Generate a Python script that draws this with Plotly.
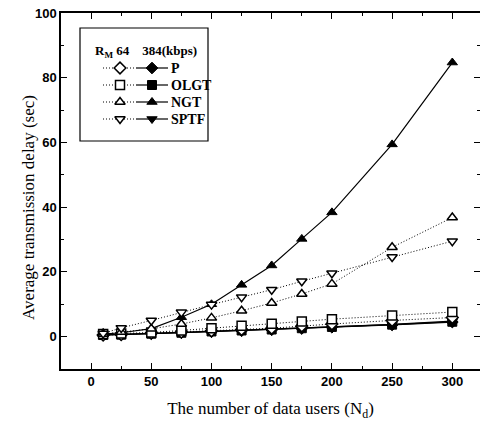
import plotly.graph_objects as go

# ---- data ----
users = [10, 25, 50, 75, 100, 125, 150, 175, 200, 250, 300]

p_64 = [0.5, 0.6, 1.1, 1.4, 1.8, 2.2, 2.6, 3.3, 3.9, 5.0, 5.9]
p_384 = [0.5, 0.6, 0.9, 1.2, 1.5, 1.8, 2.1, 2.5, 2.9, 3.6, 4.5]
olgt_64 = [0.8, 1.0, 1.3, 1.9, 2.6, 3.4, 4.0, 4.7, 5.4, 6.5, 7.6]
olgt_384 = [0.5, 0.6, 0.9, 1.2, 1.6, 1.9, 2.2, 2.6, 3.0, 3.7, 4.6]
ngt_64 = [0.8, 1.4, 2.4, 3.9, 5.8, 8.0, 10.4, 13.2, 16.3, 27.6, 36.8]
ngt_384 = [0.8, 1.2, 2.5, 6.0, 10.0, 16.0, 22.0, 30.2, 38.4, 59.4, 84.7]
sptf_64 = [1.0, 2.7, 5.0, 7.5, 9.9, 12.2, 14.5, 17.1, 19.6, 24.6, 29.5]
sptf_384 = [0.5, 0.7, 1.0, 1.3, 1.6, 1.9, 2.2, 2.6, 3.0, 3.8, 4.8]

names = ["P", "OLGT", "NGT", "SPTF"]
symbols = ["diamond", "square", "triangle-up", "triangle-down"]
series_64 = [p_64, olgt_64, ngt_64, sptf_64]
series_384 = [p_384, olgt_384, ngt_384, sptf_384]

x_ticks = [0, 50, 100, 150, 200, 250, 300]
y_ticks = [0, 20, 40, 60, 80, 100]

fig = go.Figure()

# filled (384 kbps) solid lines
for name, sym, ys in zip(names, symbols, series_384):
    fig.add_trace(go.Scatter(
        x=users, y=ys, mode="lines+markers", name=name + " 384",
        line=dict(color="black", width=1.2),
        marker=dict(symbol=sym, size=9, color="black", line=dict(color="black", width=1)),
        showlegend=False))

# open (64 kbps) dotted lines
for name, sym, ys in zip(names, symbols, series_64):
    fig.add_trace(go.Scatter(
        x=users, y=ys, mode="lines+markers", name=name + " 64",
        line=dict(color="black", width=1, dash="1px,2px"),
        marker=dict(symbol=sym, size=9, color="white", line=dict(color="black", width=1.5)),
        showlegend=False))

# ---- manual legend drawn on a pixel-like overlay axis ----
row_y = [68, 85, 102, 119]
for i, (name, sym) in enumerate(zip(names, symbols)):
    yy = row_y[i]
    fig.add_trace(go.Scatter(
        x=[103, 120, 136], y=[yy, yy, yy], xaxis="x2", yaxis="y2",
        mode="lines", line=dict(color="black", width=1, dash="1px,2px"),
        showlegend=False, hoverinfo="skip"))
    fig.add_trace(go.Scatter(
        x=[136, 152, 168], y=[yy, yy, yy], xaxis="x2", yaxis="y2",
        mode="lines", line=dict(color="black", width=1.2),
        showlegend=False, hoverinfo="skip"))
    fig.add_trace(go.Scatter(
        x=[120], y=[yy], xaxis="x2", yaxis="y2", mode="markers",
        marker=dict(symbol=sym, size=9, color="white", line=dict(color="black", width=1.5)),
        showlegend=False, hoverinfo="skip"))
    fig.add_trace(go.Scatter(
        x=[152], y=[yy], xaxis="x2", yaxis="y2", mode="markers",
        marker=dict(symbol=sym, size=9, color="black", line=dict(color="black", width=1)),
        showlegend=False, hoverinfo="skip"))
    fig.add_annotation(x=169, y=yy, xref="x2", yref="y2", text="<b>" + name + "</b>",
                       showarrow=False, xanchor="left", yanchor="middle",
                       font=dict(family="Liberation Serif", size=14, color="black"))

fig.add_annotation(x=93, y=51, xref="x2", yref="y2",
                   text="<b>R<sub>M</sub> 64    384(kbps)</b>",
                   showarrow=False, xanchor="left", yanchor="middle",
                   font=dict(family="Liberation Serif", size=13, color="black"))

fig.add_shape(type="rect", xref="x2", yref="y2", x0=80, x1=208, y0=28, y1=141,
              line=dict(color="black", width=1.2), fillcolor="rgba(0,0,0,0)")

# y-axis title as a paper-referenced annotation (a little below the plot centre)
fig.add_annotation(x=-0.079, y=0.455, xref="paper", yref="paper",
                   text="Average transmission delay (sec)", textangle=-90,
                   showarrow=False, xanchor="center", yanchor="middle",
                   font=dict(family="Liberation Serif", size=17, color="black"))

axis_font = dict(family="Liberation Sans", size=13, color="black")
title_font = dict(family="Liberation Serif", size=17, color="black")

fig.update_layout(
    width=480, height=432,
    margin=dict(l=61, r=0, t=13, b=63, autoexpand=False),
    paper_bgcolor="white", plot_bgcolor="white",
    showlegend=False,
    xaxis=dict(
        range=[-25, 323], automargin=False,
        tickvals=x_ticks, ticktext=["<b>%d</b>" % v for v in x_ticks],
        ticks="inside", ticklen=6, tickwidth=1, tickcolor="black",
        minor=dict(dtick=25, tick0=0, ticks="inside", ticklen=3, tickcolor="black"),
        showline=True, linecolor="black", linewidth=1.5, mirror="ticks",
        showgrid=False, zeroline=False, tickfont=axis_font,
        title=dict(text="The number of data users (N<sub>d</sub>)", font=title_font, standoff=14),
    ),
    yaxis=dict(
        range=[-10, 100], automargin=False,
        tickvals=y_ticks, ticktext=["<b>%d</b>" % v for v in y_ticks],
        ticks="inside", ticklen=6, tickwidth=1, tickcolor="black",
        minor=dict(dtick=10, tick0=0, ticks="inside", ticklen=3, tickcolor="black"),
        showline=True, linecolor="black", linewidth=1.5, mirror="ticks",
        showgrid=False, zeroline=False, tickfont=axis_font,
    ),
    xaxis2=dict(overlaying="x", range=[61, 480], visible=False, fixedrange=True),
    yaxis2=dict(overlaying="y", range=[369, 13], visible=False, fixedrange=True),
)

fig.write_html("out.html",
               config={"displayModeBar": False},
               post_script="document.body.style.margin='0';document.body.style.overflow='hidden';")
